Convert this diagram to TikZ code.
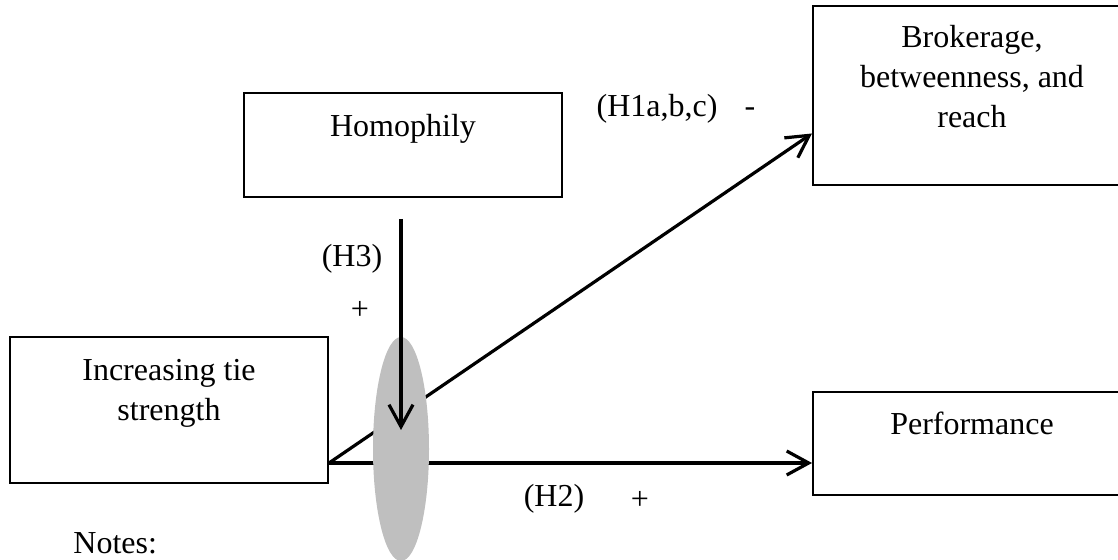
\documentclass[tikz,border=0pt]{standalone}
\usepackage{fontspec}
\setmainfont{Liberation Serif}
\usetikzlibrary{arrows.meta,calc,positioning,shapes.geometric}
\definecolor{ink}{HTML}{000000}
\definecolor{lensgray}{HTML}{BFBFBF}
\tikzset{>={Straight Barb[length=11pt,width=12pt]},
  every node/.style={font=\fontsize{16}{20}\selectfont},
  varbox/.style={draw=ink,line width=1pt,align=center,minimum width=159pt,inner sep=0pt},
  link/.style={->,draw=ink,line width=1.6pt},
  lens/.style={ellipse,fill=lensgray,minimum width=28pt,minimum height=112pt,inner sep=0pt},
  hyp/.style={anchor=base,inner sep=0pt},
  sign/.style={inner sep=0pt}}
\begin{document}
\begin{tikzpicture}[x=0.5pt,y=-0.5pt]

\useasboundingbox (0,0) rectangle (1118,560);\clip (0,0) rectangle (1118,560);
\node[varbox,minimum height=52pt] (homo) at (403,145) {Homophily\\\mbox{}};
\node[varbox,minimum height=73pt] (tie) at (169,410) {Increasing tie\\strength\\\mbox{}};
\node[varbox,minimum height=89.5pt] (broker) at (972,96) {Brokerage,\\betweenness, and\\reach\\\mbox{}};
\node[varbox,minimum height=51.5pt] (perf) at (972,443.5) {Performance\\\mbox{}};
\coordinate (src) at ($(tie.south east)+(0,-21)$);\coordinate (bin) at ($(broker.north west)+(0,128)$);
\draw[link] (src)--(bin);\draw[link] (src)--(src -| perf.west);
\node[lens] (mod) at (401,449) {};
\coordinate (hdown) at ($(homo.south -| mod.center)+(0,21)$);\coordinate (htip) at ($(mod.center)+(0,-19)$);
\draw[link] (hdown)--(htip);
\node[hyp] (h1) at (657,117) {(H1a,b,c)};\node[sign] (h1s) at (750,112) {-};
\node[hyp] (h3) at (352,267) {(H3)};\node[sign] (h3s) at (360,310) {+};
\node[hyp] (h2) at (554,507) {(H2)};\node[sign] (h2s) at (640,500) {+};
\node[anchor=base west,inner sep=0pt] (notes) at (73,553) {Notes:};
\end{tikzpicture}
\end{document}
